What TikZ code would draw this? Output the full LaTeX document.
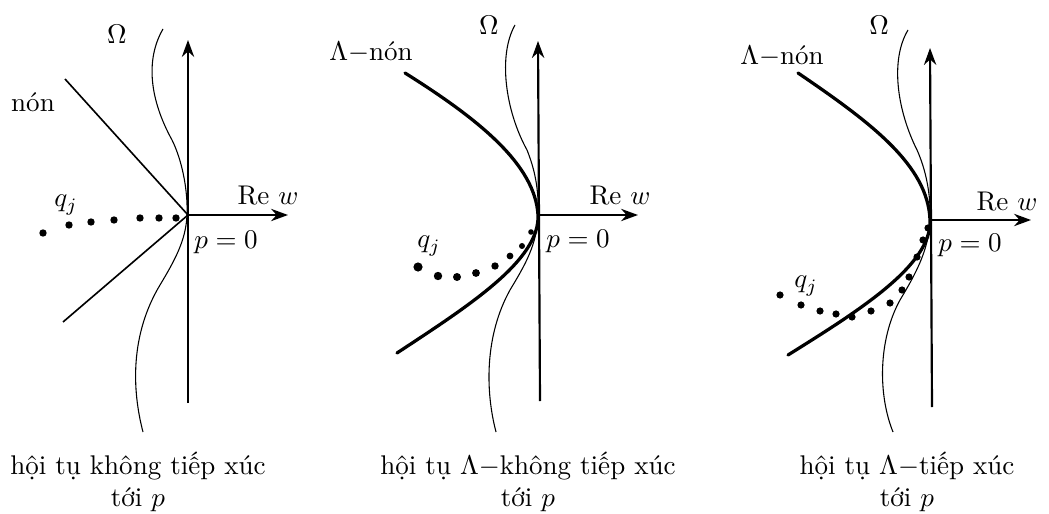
\documentclass[tikz,border=0pt]{standalone}
\usepackage{amsmath,amssymb}
\usepackage{tikz}
\usetikzlibrary{arrows.meta,positioning,calc}

\begin{document}
\begin{tikzpicture}[
  x=0.013cm,y=-0.013cm,
  axis/.style={-{Stealth[length=2.2mm,width=1.6mm]}, thick},
  omega/.style={thin},
  cone/.style={semithick},
  lcone/.style={very thick, line cap=round},
  lbl/.style={inner sep=1pt},
  captext/.style={align=center, inner sep=0pt}
]
\useasboundingbox (0,0) rectangle (1049,514);
% panel 1: non-tangential
\coordinate (p1) at (188,215);
\coordinate (t1) at (188,40); \coordinate (b1) at (188,403); \coordinate (r1) at (288,215);
\draw[axis] (b1) -- (t1);
\draw[axis] (p1) -- (r1);
\draw[omega] (163,29) .. controls (145,60) and (150,100) .. (172,140)
  .. controls (182,160) and (188,190) .. (187,215)
  .. controls (186,240) and (175,260) .. (160,285)
  .. controls (130,335) and (132,390) .. (143,432);
\coordinate (c1a) at (65,79); \coordinate (c1b) at (63,322);
\draw[cone] (c1a) -- (p1) -- (c1b);
\foreach \x/\y in {43/233,69/225,91/222,114/220,140/218,159/218,176/218}
  \fill (\x,\y) circle (3.7);
\node[lbl] (om1) at (117,34) {$\Omega$};
\node[lbl] (non1) at (33,102) {nón};
\node[lbl] (q1) at (66,205) {$q_j$};
\node[lbl] (re1) at (268,196) {Re $w$};
\node[lbl] (pz1) at (226,242) {$p=0$};
\node[captext] (cap1) at (138,482) {hội tụ không tiếp xúc\\tới $p$};
% panel 2: Lambda non-tangential
\coordinate (p2) at (538,215);
\coordinate (t2) at (538,41); \coordinate (b2) at (540,401); \coordinate (r2) at (638,215);
\draw[axis] (b2) -- (t2);
\draw[axis] (p2) -- (r2);
\draw[omega] (515,25) .. controls (498,55) and (505,110) .. (527,150)
  .. controls (535,170) and (539,190) .. (538,215)
  .. controls (537,245) and (525,265) .. (510,290)
  .. controls (485,335) and (485,390) .. (496,432);
\draw[lcone] (405,73) .. controls (480,120) and (535,165) .. (p2)
  .. controls (540,260) and (470,305) .. (397,353);
\foreach \x/\y/\r in {418/267/4.6,438/276/4.2,457/277/4,476/273/3.9,495/266/3.7,510/256/3.4,522/246/3,531/232/2.8}
  \fill (\x,\y) circle (\r);
\node[lbl] (om2) at (489,25) {$\Omega$};
\node[lbl] (non2) at (371,52) {$\Lambda-$nón};
\node[lbl] (q2) at (429,246) {$q_j$};
\node[lbl] (re2) at (620,196) {Re $w$};
\node[lbl] (pz2) at (578,241) {$p=0$};
\node[captext] (cap2) at (528,482) {hội tụ $\Lambda-$không tiếp xúc\\tới $p$};
% panel 3: Lambda tangential
\coordinate (p3) at (930,220);
\coordinate (t3) at (930,48); \coordinate (b3) at (932,407); \coordinate (r3) at (1031,220);
\draw[axis] (b3) -- (t3);
\draw[axis] (p3) -- (r3);
\draw[omega] (908,30) .. controls (890,60) and (897,110) .. (917,150)
  .. controls (926,170) and (931,195) .. (930,220)
  .. controls (929,250) and (915,275) .. (900,300)
  .. controls (878,340) and (878,395) .. (893,432);
\draw[lcone] (798,73) .. controls (870,122) and (928,165) .. (p3)
  .. controls (932,265) and (860,310) .. (788,355);
\foreach \x/\y in {780/295,801/305,820/311,836/314,852/317,871/311,890/303,902/290,909/277,917/257,923/240,928/228}
  \fill (\x,\y) circle (3.6);
\node[lbl] (om3) at (879,25) {$\Omega$};
\node[lbl] (non3) at (782,56) {$\Lambda-$nón};
\node[lbl] (q3) at (806,286) {$q_j$};
\node[lbl] (re3) at (1007,202) {Re $w$};
\node[lbl] (pz3) at (970,245) {$p=0$};
\node[captext] (cap3) at (907,482) {hội tụ $\Lambda-$tiếp xúc\\tới $p$};
\end{tikzpicture}
\end{document}
